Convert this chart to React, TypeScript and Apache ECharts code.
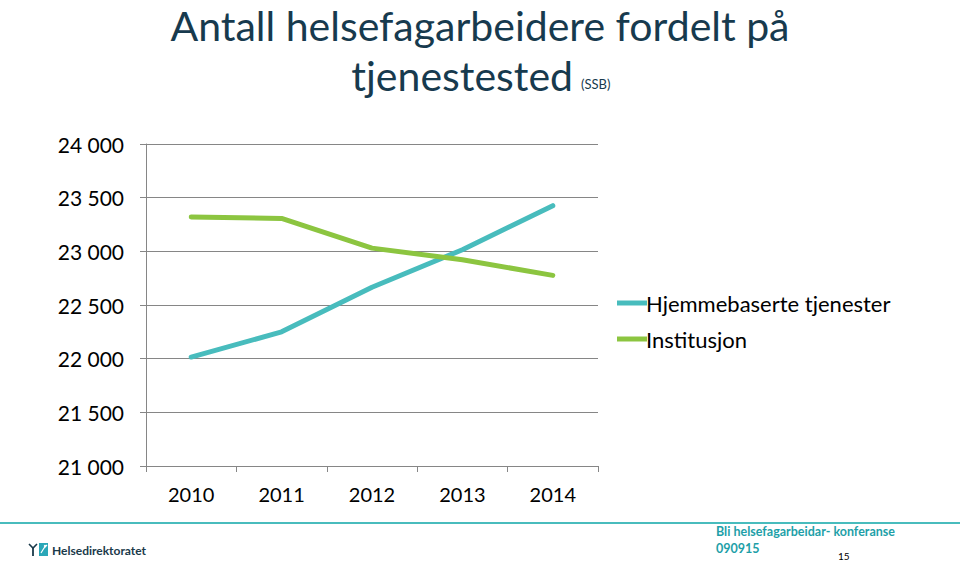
import React, { useEffect, useRef } from "react";
import * as echarts from "echarts";

const years = ["2010", "2011", "2012", "2013", "2014"];
const hjemmebaserte = [22015, 22250, 22665, 23015, 23425];
const institusjon = [23320, 23307, 23030, 22922, 22776];
const seriesNames = ["Hjemmebaserte tjenester", "Institusjon"];
const titleLine1 = "Antall helsefagarbeidere fordelt på";
const titleLine2 = "tjenestested";
const titleSource = "(SSB)";
const footerLine1 = "Bli helsefagarbeidar- konferanse";
const footerLine2 = "090915";
const pageNumber = "15";
const logoText = "Helsedirektoratet";

const FONT = "Lato, 'Open Sans', sans-serif";
const TEAL = "#48BCBD";
const GREEN = "#8CC540";
const TITLE_COLOR = "#173A4E";

export default function App() {
  const ref = useRef<HTMLDivElement>(null);
  useEffect(() => {
    if (!ref.current) return;
    const chart = echarts.init(ref.current, null, { renderer: "svg" });
    chart.setOption({
      animation: false,
      backgroundColor: "#ffffff",
      textStyle: { fontFamily: FONT },
      legend: {
        orient: "vertical",
        left: 612,
        top: 287,
        itemWidth: 30,
        itemHeight: 5,
        itemGap: 14,
        icon: "rect",
        textStyle: { fontFamily: FONT, fontSize: 22, color: "#000", padding: [0, 0, 0, -6] },
        data: seriesNames,
      },
      grid: { left: 146, right: 362, top: 144, bottom: 98, containLabel: false },
      xAxis: {
        type: "category",
        data: years,
        boundaryGap: true,
        axisLine: { lineStyle: { color: "#868686", width: 1 } },
        axisTick: { show: true, length: 6, alignWithLabel: false, lineStyle: { color: "#868686" } },
        axisLabel: { fontFamily: FONT, fontSize: 20, color: "#000", margin: 18 },
      },
      yAxis: {
        type: "value",
        min: 21000,
        max: 24000,
        interval: 500,
        axisLine: { show: true, lineStyle: { color: "#868686", width: 1 } },
        axisTick: { show: true, length: 6, lineStyle: { color: "#868686" } },
        splitLine: { show: true, lineStyle: { color: "#868686", width: 1 } },
        axisLabel: {
          fontFamily: FONT,
          fontSize: 21,
          color: "#000",
          margin: 22,
          formatter: (v: number) => {
            const s = String(Math.round(v));
            return s.slice(0, s.length - 3) + " " + s.slice(s.length - 3);
          },
        },
      },
      series: [
        {
          name: seriesNames[0],
          type: "line",
          data: hjemmebaserte,
          showSymbol: false,
          symbol: "none",
          lineStyle: { color: TEAL, width: 5, cap: "round" },
          itemStyle: { color: TEAL },
        },
        {
          name: seriesNames[1],
          type: "line",
          data: institusjon,
          showSymbol: false,
          symbol: "none",
          lineStyle: { color: GREEN, width: 5, cap: "round" },
          itemStyle: { color: GREEN },
        },
      ],
      graphic: [
        {
          type: "text",
          x: 480,
          y: 25,
          style: { text: titleLine1, font: "41px " + FONT, lineHeight: 44, fill: TITLE_COLOR, textAlign: "center", textVerticalAlign: "middle" },
        },
        {
          type: "text",
          x: 573,
          y: 75,
          style: { text: titleLine2, font: "41px " + FONT, lineHeight: 44, fill: TITLE_COLOR, textAlign: "right", textVerticalAlign: "middle" },
        },
        {
          type: "text",
          x: 581,
          y: 84,
          style: { text: titleSource, font: "13px " + FONT, fill: TITLE_COLOR, textAlign: "left", textVerticalAlign: "middle" },
        },
        { type: "line", shape: { x1: 0, y1: 523, x2: 960, y2: 523 }, style: { stroke: TEAL, lineWidth: 2 } },
        {
          type: "text",
          left: 716,
          top: 525,
          style: { text: footerLine1, font: "bold 12.5px " + FONT, fill: "#1E9FA8" },
        },
        {
          type: "text",
          left: 716,
          top: 542,
          style: { text: footerLine2, font: "bold 12.5px " + FONT, fill: "#1E9FA8" },
        },
        {
          type: "text",
          left: 838,
          top: 551,
          style: { text: pageNumber, font: "10px " + FONT, fill: "#000" },
        },
        // logo
        { type: "rect", shape: { x: 39, y: 543, width: 9, height: 13 }, style: { fill: "#2AA7B8" } },
        { type: "polyline", shape: { points: [[41, 553], [44, 548], [47, 545]] }, style: { stroke: "#fff", lineWidth: 1.2, fill: "none" } },
        { type: "circle", shape: { cx: 45, cy: 546, r: 1.2 }, style: { fill: "#fff" } },
        { type: "polyline", shape: { points: [[29, 544], [33, 548], [37, 544]] }, style: { stroke: "#1A3A4A", lineWidth: 1.6, fill: "none" } },
        { type: "line", shape: { x1: 33, y1: 548, x2: 33, y2: 556 }, style: { stroke: "#1A3A4A", lineWidth: 1.8 } },
        {
          type: "text",
          left: 52,
          top: 544,
          style: { text: logoText, font: "bold 12px " + FONT, fill: "#1A3A4A" },
        },
      ],
    });
    return () => chart.dispose();
  }, []);
  return <div ref={ref} style={{ width: 960, height: 564, position: "absolute", left: 0, top: 0 }} />;
}
